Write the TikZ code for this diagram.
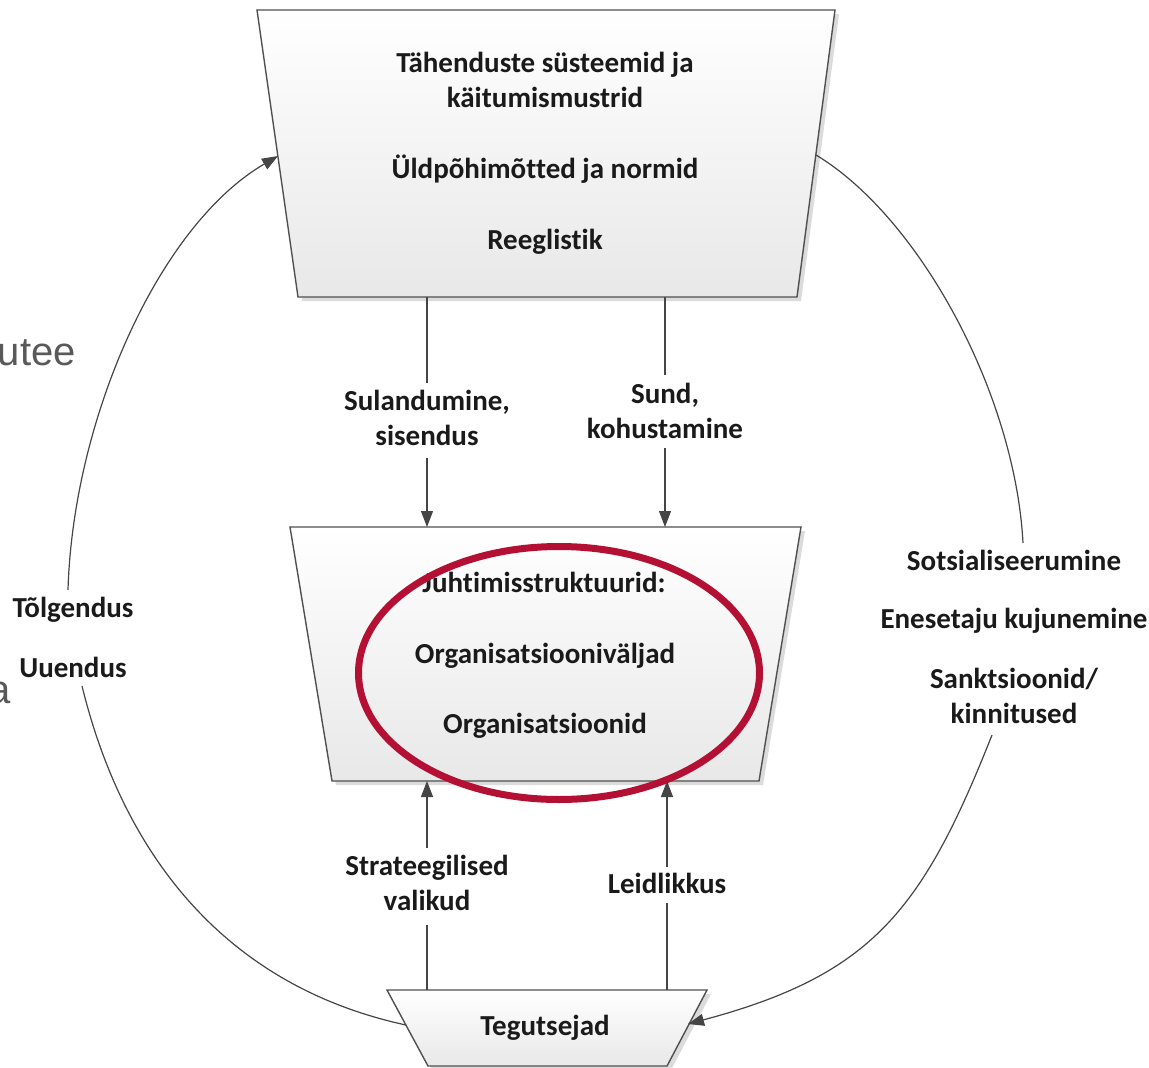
\documentclass[tikz,border=0pt]{standalone}
\usepackage{fontspec}
\setmainfont{Carlito}[Ligatures={NoCommon}]
\newfontfamily\slidefont{Liberation Sans}
\usetikzlibrary{arrows.meta,shapes.geometric}
\definecolor{linec}{HTML}{454545}
\definecolor{edgec}{HTML}{505050}
\definecolor{ringred}{RGB}{180,16,52}
\definecolor{slidegray}{HTML}{595959}
\definecolor{txtc}{HTML}{1A1A1A}
\begin{document}
\begin{tikzpicture}[x=1pt,y=-1pt,
  lbl/.style={font=\bfseries\fontsize{29}{35}\selectfont, text=txtc, inner sep=0pt, anchor=base},
  conn/.style={draw=linec, line width=1.2pt, -{Triangle[length=16pt,width=12pt]}},
  plainline/.style={draw=linec, line width=1.2pt},
  box/.style={draw=edgec, line width=1.4pt, top color=white, bottom color=black!9},
  boxshadow/.style={fill=black!14},
  ring/.style={draw=ringred, line width=7pt, ellipse, inner sep=0pt},
  slidetxt/.style={font=\slidefont\fontsize{40}{48}\selectfont, text=slidegray, inner sep=0pt, anchor=base east}]
\useasboundingbox (0,0) rectangle (1149,1068);

% remnants of slide text at the left edge
\node[slidetxt] (slideA) at (76,365) {utee};
\node[slidetxt] (slideB) at (11,703) {a};

% corners
\coordinate (T1) at (257,10);  \coordinate (T2) at (835,10);
\coordinate (T3) at (797,297); \coordinate (T4) at (298,297);
\coordinate (M1) at (290,527); \coordinate (M2) at (801,527);
\coordinate (M3) at (759,781); \coordinate (M4) at (332,781);
\coordinate (B1) at (387,990); \coordinate (B2) at (707,990);
\coordinate (B3) at (667,1066);\coordinate (B4) at (428,1066);

% shadows
\fill[boxshadow] ([shift={(4,4)}]T1) -- ([shift={(4,4)}]T2) -- ([shift={(4,4)}]T3) -- ([shift={(4,4)}]T4) -- cycle;
\fill[boxshadow] ([shift={(4,4)}]M1) -- ([shift={(4,4)}]M2) -- ([shift={(4,4)}]M3) -- ([shift={(4,4)}]M4) -- cycle;
\fill[boxshadow] ([shift={(4,4)}]B1) -- ([shift={(4,4)}]B2) -- ([shift={(4,4)}]B3) -- ([shift={(4,4)}]B4) -- cycle;

% boxes
\path[box] (T1) -- (T2) -- (T3) -- (T4) -- cycle;
\path[box] (M1) -- (M2) -- (M3) -- (M4) -- cycle;
\path[box] (B1) -- (B2) -- (B3) -- (B4) -- cycle;

% box texts
\node[lbl] (top1) at (545,72)  {Tähenduste süsteemid ja};
\node[lbl] (top2) at (545,107) {käitumismustrid};
\node[lbl] (top3) at (545,178) {Üldpõhimõtted ja normid};
\node[lbl] (top4) at (545,249) {Reeglistik};
\node[lbl] (mid1) at (544,592) {Juhtimisstruktuurid:};
\node[lbl] (mid2) at (545,663) {Organisatsiooniväljad};
\node[lbl] (mid3) at (545,733) {Organisatsioonid};
\node[lbl] (bot1) at (545,1035) {Tegutsejad};

% vertical connector labels
\node[lbl] (sul1) at (427,410) {Sulandumine,};
\node[lbl] (sul2) at (427,445) {sisendus};
\node[lbl] (sun1) at (665,403) {Sund,};
\node[lbl] (sun2) at (665,438) {kohustamine};
\node[lbl] (str1) at (427,875) {Strateegilised};
\node[lbl] (str2) at (427,910) {valikud};
\node[lbl] (lei1) at (667,893) {Leidlikkus};

% curve labels
\node[lbl] (tol) at (73,617) {Tõlgendus};
\node[lbl] (uue) at (73,677) {Uuendus};
\node[lbl] (sot) at (1014,570) {Sotsialiseerumine};
\node[lbl] (ene) at (1014,628) {Enesetaju kujunemine};
\node[lbl] (san1) at (1014,688) {Sanktsioonid/};
\node[lbl] (san2) at (1014,723) {kinnitused};

% connector end points
\coordinate (aTL) at (427,297); \coordinate (aTLg1) at (427,383);
\coordinate (aTLg2) at (427,458); \coordinate (aML) at (427,527);
\coordinate (aTR) at (665,297); \coordinate (aTRg1) at (665,375);
\coordinate (aTRg2) at (665,448); \coordinate (aMR) at (665,527);
\coordinate (aBL) at (427,990); \coordinate (aBLg1) at (427,925);
\coordinate (aBLg2) at (427,848); \coordinate (aMBL) at (427,781);
\coordinate (aBR) at (667,990); \coordinate (aBRg1) at (667,903);
\coordinate (aBRg2) at (667,867); \coordinate (aMBR) at (667,781);

\draw[plainline] (aTL) -- (aTLg1);  \draw[conn] (aTLg2) -- (aML);
\draw[plainline] (aTR) -- (aTRg1);  \draw[conn] (aTRg2) -- (aMR);
\draw[plainline] (aBL) -- (aBLg1);  \draw[conn] (aBLg2) -- (aMBL);
\draw[plainline] (aBR) -- (aBRg1);  \draw[conn] (aBRg2) -- (aMBR);

% left loop: Tegutsejad -> top box
\coordinate (lS) at (406,1025); \coordinate (lG1) at (82,686);
\coordinate (lG2) at (68,590);  \coordinate (lE) at (278,156);
\draw[plainline] (lS) .. controls (230,987) and (125,861) .. (lG1);
\draw[conn] (lG2) .. controls (73,420) and (158,226) .. (lE);

% right loop: top box -> Tegutsejad
\coordinate (rS) at (816,155);  \coordinate (rG1) at (1023,543);
\coordinate (rG2) at (992,735); \coordinate (rE) at (688,1024);
\draw[plainline] (rS) .. controls (919,217) and (1015,393) .. (rG1);
\draw[conn] (rG2) .. controls (922,912) and (871,975) .. (rE);

% red highlight ring
\node[ring, minimum width=401pt, minimum height=253pt] (ring) at (559,673) {};
\end{tikzpicture}
\end{document}
